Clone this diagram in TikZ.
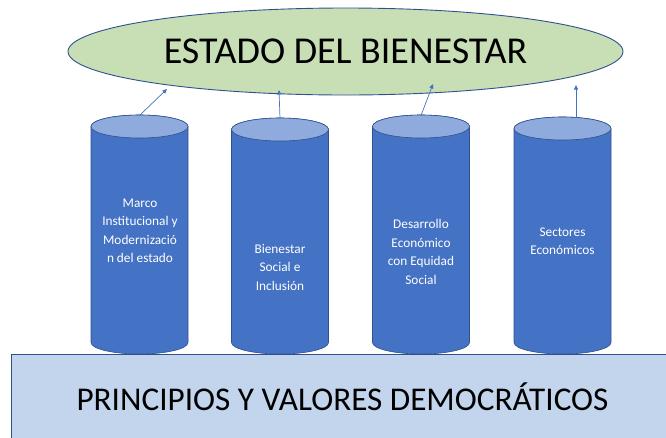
\documentclass[tikz,border=0pt]{standalone}
\usepackage{fontspec}
\setmainfont{Carlito}
\usetikzlibrary{shapes.geometric,arrows.meta}
\definecolor{azulpilar}{HTML}{4472C4}
\definecolor{azultapa}{HTML}{8FAADC}
\definecolor{azulborde}{HTML}{2F528F}
\definecolor{verdeestado}{HTML}{C8DFB6}
\definecolor{azulbase}{HTML}{C2D5EC}

\begin{document}
\begin{tikzpicture}[x=1pt,y=-1pt,
    cuerpo/.style={fill=azulpilar, draw=azulborde, line width=0.6pt},
    tapa/.style={fill=azultapa, draw=azulborde, line width=0.6pt},
    rotulo/.style={text=white, align=center,
        font=\fontsize{13.3}{18.5}\selectfont},
    flecha/.style={draw=azulpilar, line width=0.7pt,
        -{Triangle[length=4.5pt,width=4pt]}}]
\useasboundingbox (0,0) rectangle (666,437);

% el estado
\node[ellipse, draw=azulborde, fill=verdeestado, line width=0.9pt,
      minimum width=555pt, minimum height=87pt, inner sep=0pt,
      font=\fontsize{38}{44}\selectfont] (estado) at (345.5,51.5)
      {ESTADO DEL BIENESTAR};

% los pilares: centro x, borde superior, salida de la flecha
\foreach \n/\cx/\ty/\ax in {1/139.5/115/139.5, 2/280/118/280, 3/421/115/421, 4/562.5/117/576} {
    \draw[cuerpo] (\cx-48.5,\ty+11.5) -- (\cx-48.5,342.5)
        arc[start angle=180, end angle=0, x radius=48.5, y radius=11.5]
        -- (\cx+48.5,\ty+11.5)
        arc[start angle=0, end angle=-180, x radius=48.5, y radius=11.5] -- cycle;
    \draw[tapa] (\cx,\ty+11.5) ellipse [x radius=48.5, y radius=11.5];
    \coordinate (c\n) at (\ax,\ty+0.5);
}

\node[rotulo] (t1) at (140,231) {Marco\\Institucional y\\Modernizació\\n del estado};
\node[rotulo] (t2) at (280,267) {Bienestar\\Social e\\Inclusión};
\node[rotulo] (t3) at (421,252) {Desarrollo\\Económico\\con Equidad\\Social};
\node[rotulo] (t4) at (562.5,241) {Sectores\\Económicos};

% la base
\node[rectangle, draw=azulborde, fill=azulbase, line width=0.6pt,
      minimum width=660pt, minimum height=90pt, inner sep=0pt] (base) at (341,399) {};
\node[anchor=base, font=\fontsize{33.2}{40}\selectfont] (lema) at (342.5,410)
      {PRINCIPIOS Y VALORES DEMOCRÁTICOS};

% flechas hacia el estado
\coordinate (p1) at (167,89);
\coordinate (p2) at (279,90);
\coordinate (p3) at (433,84);
\coordinate (p4) at (576,85);
\draw[flecha] (c1) -- (p1);
\draw[flecha] (c2) -- (p2);
\draw[flecha] (c3) -- (p3);
\draw[flecha] (c4) -- (p4);
\end{tikzpicture}
\end{document}
